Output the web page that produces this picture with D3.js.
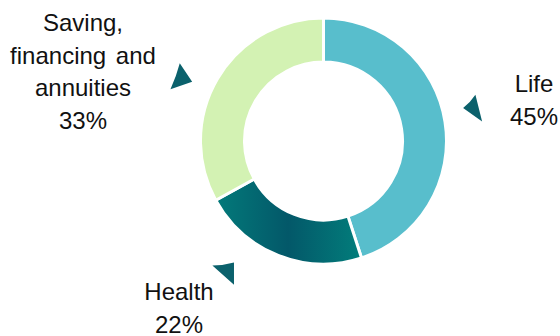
<!DOCTYPE html>
<html>
<head>
<meta charset="utf-8">
<script src="https://cdn.jsdelivr.net/npm/d3@7"></script>
<style>
  html, body { margin: 0; padding: 0; background: #fff; }
  svg { display: block; }
  text { font-family: "Liberation Sans", Arial, sans-serif; fill: #111; }
</style>
</head>
<body>
<svg id="chart" width="560" height="336"></svg>
<script>
// Business mix by line
const categories = ["Life", "Health", "Saving, financing and annuities"];
const shares = [45, 22, 33];
const labelLines = [["Life", "45%"], ["Health", "22%"], ["Saving,", "financing and", "annuities", "33%"]];

const width = 560, height = 336;
const cx = 323.5, cy = 141;
const outerR = 123, innerR = 79;

const svg = d3.select("#chart");
const defs = svg.append("defs");

// Health slice: horizontal teal gradient (coordinates relative to the ring centre)
const grad = defs.append("linearGradient")
  .attr("id", "healthGrad")
  .attr("gradientUnits", "userSpaceOnUse")
  .attr("x1", -108).attr("x2", 37).attr("y1", 0).attr("y2", 0);
grad.append("stop").attr("offset", "0%").attr("stop-color", "#037a7a");
grad.append("stop").attr("offset", "50%").attr("stop-color", "#035869");
grad.append("stop").attr("offset", "100%").attr("stop-color", "#027d7b");

const fills = ["#58becc", "url(#healthGrad)", "#d3f2b3"];

const pie = d3.pie().sort(null).value(d => d.value);
const arcs = pie(categories.map((c, i) => ({ name: c, value: shares[i] })));
const arc = d3.arc().innerRadius(innerR).outerRadius(outerR);

const g = svg.append("g").attr("transform", `translate(${cx},${cy})`);
g.selectAll("path.slice")
  .data(arcs)
  .join("path")
  .attr("class", "slice")
  .attr("d", arc)
  .attr("fill", (d, i) => fills[i])
  .attr("stroke", "#fff")
  .attr("stroke-width", 3)
  .attr("stroke-linejoin", "miter");

// Small arrowhead callouts beside each slice (polar placement around the ring)
const callouts = [
  { angle: 77.6, r: 153.6, pts: [[1.9, -13.3], [-10.4, 0], [8.6, 13.4]] },
  { angle: 216.7, r: 162, pts: [[-14.3, -5.4], [7.3, -8.4], [7.3, 13.9]] },
  { angle: 293.8, r: 156, pts: [[-1, -14.8], [-10.3, 11.2], [11.4, 3.6]] }
];
callouts.forEach(c => {
  const a = c.angle * Math.PI / 180;
  const px = Math.sin(a) * c.r, py = -Math.cos(a) * c.r;
  const [p0, p1, p2] = c.pts;
  // concave side between the first two points
  const mx = (p0[0] + p1[0]) / 2, my = (p0[1] + p1[1]) / 2;
  const qx = mx + (0 - mx) * 0.2, qy = my + (0 - my) * 0.2;
  const path = d3.path();
  path.moveTo(p0[0], p0[1]);
  path.quadraticCurveTo(qx, qy, p1[0], p1[1]);
  path.lineTo(p2[0], p2[1]);
  path.closePath();
  g.append("path")
    .attr("transform", `translate(${px},${py})`)
    .attr("d", path.toString())
    .attr("fill", "#0b616c");
});

// Labels
const labelPos = [
  { x: 534, y: 92 },
  { x: 179, y: 300 },
  { x: 83, y: 31 }
];
const lineH = 32.5;
labelLines.forEach((lines, i) => {
  const t = svg.append("text")
    .attr("x", labelPos[i].x)
    .attr("y", labelPos[i].y)
    .attr("text-anchor", "middle")
    .attr("font-size", 24);
  lines.forEach((ln, j) => {
    t.append("tspan")
      .attr("x", labelPos[i].x)
      .attr("y", labelPos[i].y + j * lineH)
      .attr("word-spacing", ln.includes(" ") ? 3 : null)
      .text(ln);
  });
});
</script>
</body>
</html>
